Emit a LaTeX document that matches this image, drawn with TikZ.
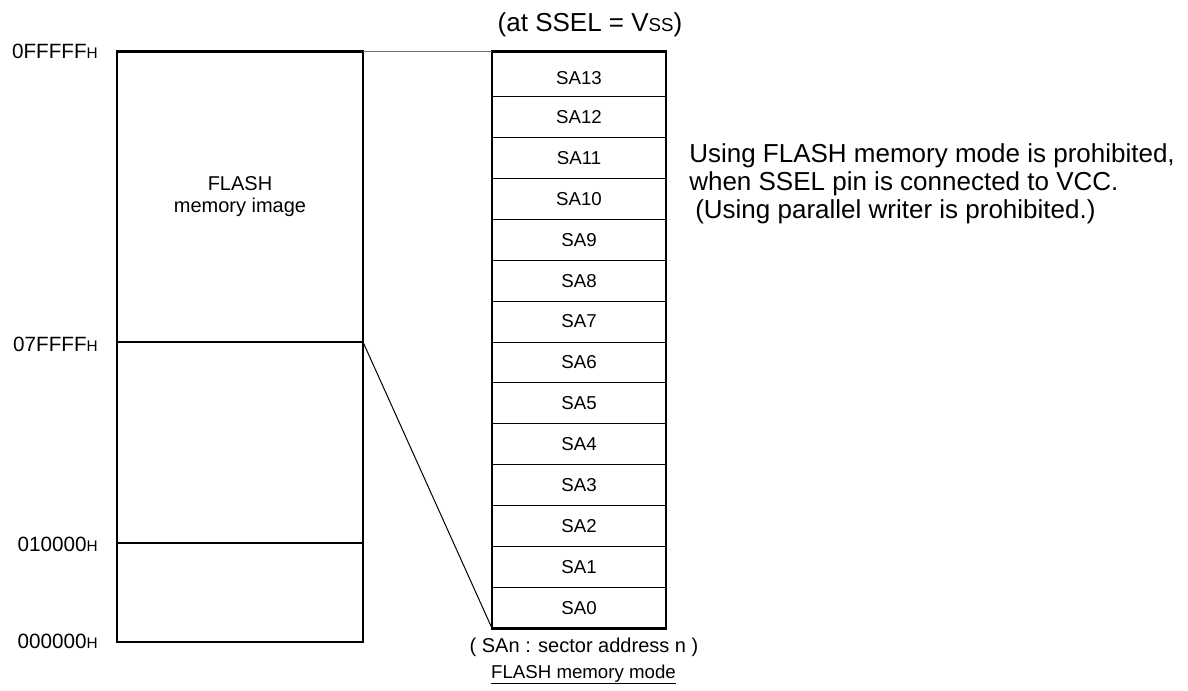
\documentclass[tikz,border=0pt]{standalone}
\usepackage{fontspec}
\setmainfont{Liberation Sans}
\begin{document}
\begin{tikzpicture}[x=0.75pt,y=-0.75pt,
  thickbox/.style={draw,line width=2pt,inner sep=0pt,outer sep=0pt},
  thinbox/.style={draw,line width=1pt,inner sep=0pt,outer sep=0pt,minimum width=184.5pt},
  rowbox/.style={draw,line width=0.75pt,inner sep=0pt,outer sep=0pt,
    minimum width=130.5pt,minimum height=30.675pt,font=\fontsize{14}{16}\selectfont},
  addr/.style={anchor=base east,inner sep=0pt,font=\fontsize{15.5}{18}\selectfont},
  note/.style={anchor=base west,inner sep=0pt,font=\fontsize{19.5}{21}\selectfont},
  small/.style={anchor=base,inner sep=0pt},
  conn/.style={line width=0.75pt}]
\useasboundingbox (0,0) rectangle (1188,690);

% left memory map (lower part)
\node[thinbox, minimum height=150.75pt] (low1) at (240,442.5) {};
\node[thinbox, minimum height=74.25pt] (low0) at (240,592.5) {};

% sector column
\foreach \i in {0,...,12} {
  \pgfmathsetmacro\yc{628.3-(\i+0.5)*40.9}
  \node[rowbox] (sa\i) at (579,\yc) {SA\i};
}
\node[rowbox, minimum height=33.75pt, text height=16pt] (sa13) at (579,74.2) {SA13};
\draw[line width=2pt] (sa13.north west) rectangle (sa0.south east);

% left memory map (flash image part)
\node[thickbox, minimum width=184.5pt, minimum height=217.725pt, align=center,
      font=\fontsize{15}{16.5}\selectfont] (img) at (240,196.85) {FLASH\\memory image};

% connectors
\draw[conn, black!55] (img.north east) -- (sa13.north west);
\draw[conn] (img.south east) -- (sa0.south west);

% addresses
\node[addr] (a3) at (98,58) {0FFFFF{\fontsize{11.5}{12}\selectfont H}};
\node[addr] (a2) at (98,351.5) {07FFFF{\fontsize{11.5}{12}\selectfont H}};
\node[addr] (a1) at (98,551.5) {010000{\fontsize{11.5}{12}\selectfont H}};
\node[addr] (a0) at (98,648) {000000{\fontsize{11.5}{12}\selectfont H}};

% title
\node[small, font=\fontsize{19.5}{21}\selectfont] (title) at (590,31)
  {(at SSEL = V{\fontsize{14}{14}\selectfont SS})};

% note
\node[note] (n1) at (689,162.7) {Using FLASH memory mode is prohibited,};
\node[note] (n2) at (689,190.5) {when SSEL pin is connected to VCC.};
\node[note] (n3) at (695,218.3) {(Using parallel writer is prohibited.)};

% legend
\node[small, font=\fontsize{15}{16}\selectfont] (legend) at (584,652.5) {( SAn : sector address n )};
\node[small, font=\fontsize{14}{16}\selectfont] (mode) at (583.5,678) {\underline{FLASH memory mode}};
\end{tikzpicture}
\end{document}
